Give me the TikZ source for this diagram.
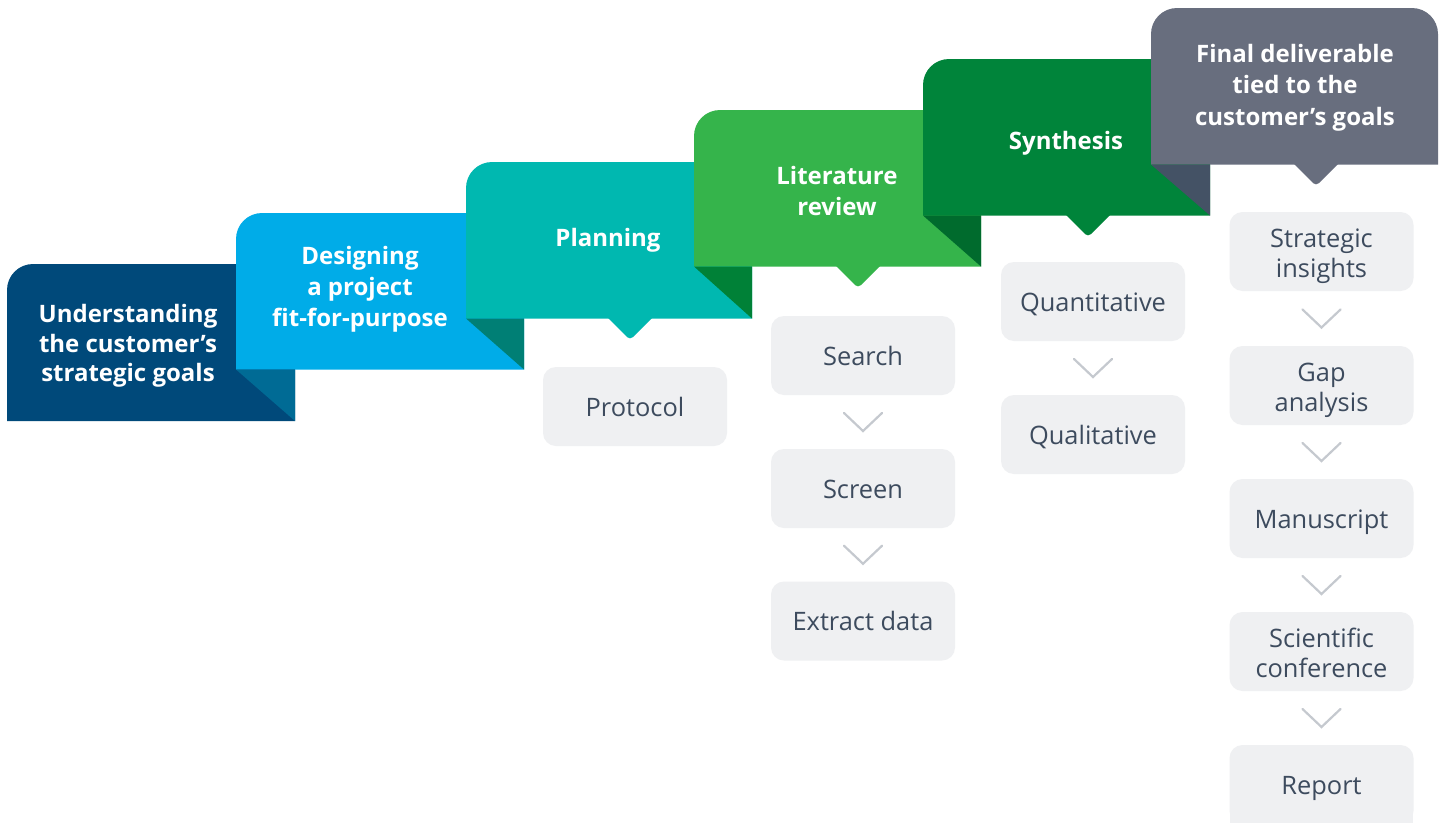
\documentclass[tikz,border=0pt]{standalone}
\usepackage{fontspec}
\setmainfont{Open Sans}
\usetikzlibrary{calc}
\definecolor{bA}{HTML}{00497A}
\definecolor{bB}{HTML}{00ACE8}
\definecolor{bC}{HTML}{00B8B0}
\definecolor{bD}{HTML}{35B44B}
\definecolor{bE}{HTML}{00843A}
\definecolor{bF}{HTML}{686E7E}
\definecolor{fA}{HTML}{006B95}
\definecolor{fB}{HTML}{007F75}
\definecolor{fC}{HTML}{008137}
\definecolor{fD}{HTML}{006B2D}
\definecolor{fE}{HTML}{445265}
\definecolor{boxfill}{HTML}{EFF0F2}
\definecolor{boxtext}{HTML}{3D4B5E}
\definecolor{chev}{HTML}{C5C9CF}
\newcommand{\twoline}[2]{\begin{tabular}[b]{@{}c@{}}#1\\#2\end{tabular}}
\newcommand{\threeline}[3]{\begin{tabular}[b]{@{}c@{}}#1\\#2\\#3\end{tabular}}
\begin{document}
\begin{tikzpicture}[x=1pt,y=-1pt,
  bantext/.style={text=white,font=\fontsize{24}{31}\selectfont\bfseries,inner sep=0pt,
    text height=0pt,text depth=0pt},
  graybox/.style={fill=boxfill,rounded corners=13pt,minimum width=184pt,minimum height=79pt,
    text=boxtext,font=\fontsize{25.4}{30}\selectfont,inner sep=0pt,text height=19pt,text depth=0pt},
  graybox2/.style={graybox,text height=51pt},
  chevline/.style={draw=chev,line width=2.2pt,line cap=round,line join=miter}]
\useasboundingbox (0,0) rectangle (1443,822);
\fill[white] (0,0) rectangle (1443,822);
% banners
\fill[bA] (7,421) [rounded corners=26pt] -- (7,264) [sharp corners] -- (295,264) -- (295,421) -- cycle;
\fill[bB] (236,369.5) [rounded corners=26pt] -- (236,213) [sharp corners] -- (524,213) -- (524,369.5) -- cycle;
\fill[fA] (236,369.5) -- (295,369.5) -- (295,421) -- cycle;
\fill[bC] (466,318.5) [rounded corners=26pt] -- (466,162) [sharp corners] -- (752,162) -- (752,318.5) -- cycle;
\fill[fB] (466,318.5) -- (524,318.5) -- (524,369.5) -- cycle;
\fill[bC] (607,317) [rounded corners=4pt] -- (630,340) [sharp corners] -- (653,317) -- cycle;
\fill[bD] (694,266.5) [rounded corners=26pt] -- (694,110) [sharp corners] -- (981,110) -- (981,266.5) -- cycle;
\fill[fC] (694,266.5) -- (752,266.5) -- (752,318.5) -- cycle;
\fill[bD] (835,265) [rounded corners=4pt] -- (858,288) [sharp corners] -- (881,265) -- cycle;
\fill[bE] (923,215.5) [rounded corners=26pt] -- (923,59) [sharp corners] -- (1210,59) -- (1210,215.5) -- cycle;
\fill[fD] (923,215.5) -- (981,215.5) -- (981,266.5) -- cycle;
\fill[bE] (1065,214) [rounded corners=4pt] -- (1088,237) [sharp corners] -- (1111,214) -- cycle;
\fill[bF] (1151,164.5) [rounded corners=26pt] -- (1151,8) -- (1438,8) [sharp corners] -- (1438,164.5) -- cycle;
\fill[fE] (1151,164.5) -- (1210,164.5) -- (1210,215.5) -- cycle;
\fill[bF] (1293,163) [rounded corners=4pt] -- (1316,186) [sharp corners] -- (1339,163) -- cycle;
% banner texts (placed at the baseline of their last line)
\node[bantext,font=\fontsize{24}{29.5}\selectfont\bfseries] (t1) at (128,381.7) {\threeline{Understanding}{the customer’s}{strategic goals}};
\node[bantext] (t2) at (360,326.7) {\threeline{Designing}{a project}{fit-for-purpose}};
\node[bantext] (t3) at (608,246) {Planning};
\node[bantext] (t4) at (837,215) {\twoline{Literature}{review}};
\node[bantext] (t5) at (1066,149.3) {Synthesis};
\node[bantext,font=\fontsize{24}{31.3}\selectfont\bfseries] (t6) at (1295,125) {\threeline{Final deliverable}{tied to the}{customer’s goals}};
% gray boxes
\fill[boxfill] (1230,784) rectangle (1413,830);
\node[graybox] (protocol) at (635,406.5) {Protocol};
\node[graybox] (search) at (863,355.5) {Search};
\node[graybox] (screen) at (863,488.5) {Screen};
\node[graybox] (extract) at (863,621) {Extract data};
\node[graybox] (quant) at (1093,301.5) {Quantitative};
\node[graybox] (qual) at (1093,434.5) {Qualitative};
\node[graybox2] (strat) at (1321.5,251.5) {\twoline{Strategic}{insights}};
\node[graybox2] (gap) at (1321.5,385.5) {\twoline{Gap}{analysis}};
\node[graybox] (manu) at (1321.5,518.5) {Manuscript};
\node[graybox2] (sci) at (1321.5,651.5) {\twoline{Scientific}{conference}};
\node[graybox] (report) at (1321.5,784.5) {Report};
% chevrons
\foreach \a/\b in {search/screen,screen/extract,quant/qual,strat/gap,gap/manu,manu/sci,sci/report}{
  \draw[chevline] ($(\a.south)!0.5!(\b.north)+(-19,-9)$) -- ++(19,18) -- ++(19,-18);
}
\end{tikzpicture}
\end{document}
